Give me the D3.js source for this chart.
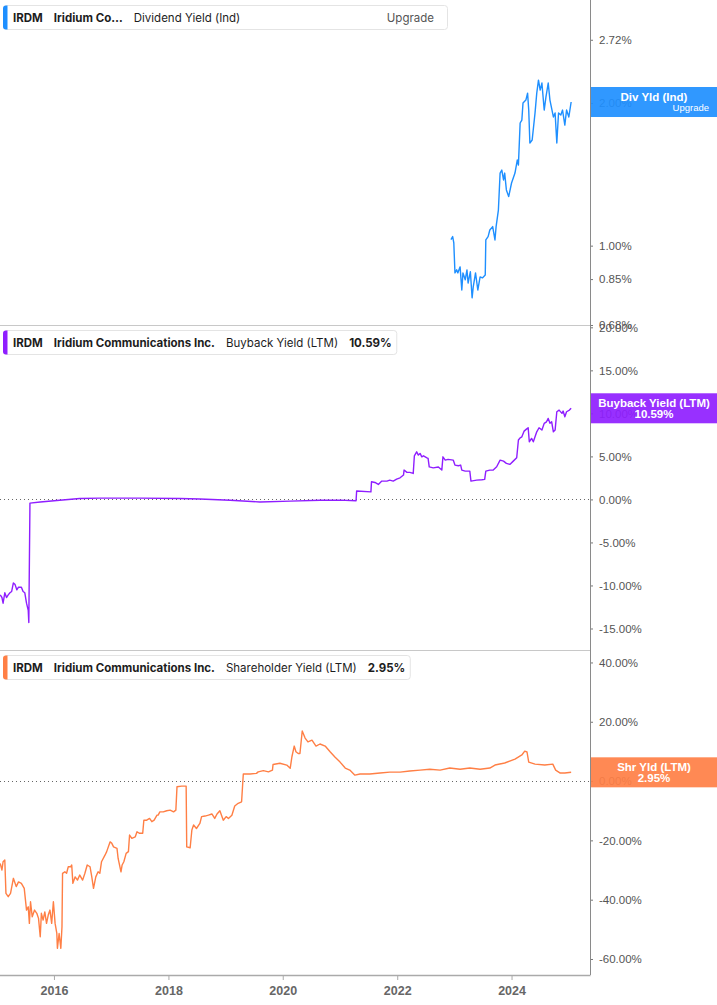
<!DOCTYPE html>
<html>
<head>
<meta charset="utf-8">
<script src="https://cdn.jsdelivr.net/npm/d3@7"></script>
<style>
  body { margin: 0; background: #fff; }
  svg { display: block; }
</style>
</head>
<body>
<svg id="chart" width="717" height="1005"></svg>
<script>
// tick values
var yearTicks = [2016, 2018, 2020, 2022, 2024];
var divTicks = [0.68, 0.85, 1.00, 2.00, 2.72];
var buybackTicks = [-15, -10, -5, 0, 5, 10, 15, 20];
var shrTicks = [-60, -40, -20, 0, 20, 40];

// [decimal year, percent]
var divYield = [
  [2022.94, 1.03], [2022.97, 1.045], [2022.99, 1.013], [2023.01, 0.876], [2023.04, 0.889],
  [2023.06, 0.876], [2023.10, 0.902], [2023.13, 0.806], [2023.15, 0.876], [2023.19, 0.847],
  [2023.22, 0.889], [2023.24, 0.834], [2023.28, 0.881], [2023.31, 0.776], [2023.33, 0.818],
  [2023.37, 0.876], [2023.41, 0.806], [2023.45, 0.859], [2023.49, 0.855], [2023.54, 0.867],
  [2023.55, 1.028], [2023.59, 1.045], [2023.62, 1.079], [2023.67, 1.097], [2023.71, 1.028],
  [2023.73, 1.097], [2023.77, 1.189], [2023.80, 1.423], [2023.83, 1.444], [2023.86, 1.376],
  [2023.88, 1.423], [2023.91, 1.311], [2023.95, 1.269], [2024.00, 1.356], [2024.06, 1.423],
  [2024.10, 1.516], [2024.12, 1.480], [2024.15, 1.815], [2024.18, 1.841], [2024.20, 2.000],
  [2024.25, 2.029], [2024.28, 2.099], [2024.30, 1.933], [2024.32, 1.647], [2024.36, 1.671],
  [2024.41, 1.906], [2024.44, 2.099], [2024.47, 2.236], [2024.50, 2.130], [2024.53, 2.204],
  [2024.57, 1.933], [2024.60, 2.059], [2024.64, 2.204], [2024.67, 2.029], [2024.73, 1.869],
  [2024.76, 1.906], [2024.79, 1.647], [2024.82, 1.906], [2024.86, 1.887], [2024.89, 1.933],
  [2024.93, 1.797], [2024.96, 1.933], [2025.00, 1.869], [2025.04, 2.01]
];

var buybackYield = [
  [2015.06, -11.1], [2015.09, -11.4], [2015.11, -12.06], [2015.14, -10.85], [2015.17, -11.4],
  [2015.20, -11.1], [2015.23, -10.85], [2015.26, -10.7], [2015.29, -9.7], [2015.32, -9.9],
  [2015.35, -10.5], [2015.38, -10.2], [2015.43, -10.2], [2015.46, -10.7], [2015.49, -10.85],
  [2015.52, -12.06], [2015.55, -12.9], [2015.56, -14.3], [2015.58, -0.43], [2015.76, -0.3],
  [2016.10, -0.1], [2016.45, 0.1], [2016.80, 0.15], [2017.50, 0.15], [2018.20, 0.1],
  [2018.55, 0.05], [2019.08, -0.1], [2019.60, -0.3], [2020.13, -0.2], [2020.65, -0.1],
  [2021.00, -0.08], [2021.28, -0.16], [2021.29, 0.97], [2021.54, 0.88], [2021.55, 2.05],
  [2021.61, 1.97], [2021.67, 1.74], [2021.73, 2.13], [2021.82, 2.13], [2021.87, 2.24],
  [2021.93, 2.13], [2021.99, 2.36], [2022.05, 2.51], [2022.11, 2.83], [2022.12, 3.41],
  [2022.17, 3.14], [2022.22, 3.14], [2022.28, 3.02], [2022.30, 5.07], [2022.34, 5.53],
  [2022.37, 5.15], [2022.40, 5.35], [2022.43, 4.95], [2022.46, 5.07], [2022.52, 4.84],
  [2022.54, 4.77], [2022.56, 3.79], [2022.63, 3.67], [2022.72, 3.76], [2022.78, 3.41],
  [2022.80, 4.95], [2022.84, 4.57], [2022.89, 4.65], [2022.98, 4.57], [2023.01, 3.99],
  [2023.07, 3.91], [2023.11, 3.99], [2023.13, 3.41], [2023.19, 3.29], [2023.27, 3.29],
  [2023.29, 2.13], [2023.39, 2.24], [2023.48, 2.28], [2023.53, 2.33], [2023.55, 3.29],
  [2023.62, 3.41], [2023.68, 3.41], [2023.74, 3.79], [2023.80, 4.57], [2023.86, 4.45],
  [2023.91, 4.19], [2023.97, 4.07], [2024.03, 4.45], [2024.09, 4.84], [2024.12, 6.9],
  [2024.15, 7.16], [2024.18, 7.28], [2024.22, 7.94], [2024.26, 8.17], [2024.29, 8.33],
  [2024.31, 6.7], [2024.35, 7.09], [2024.38, 6.7], [2024.44, 7.86], [2024.48, 8.33],
  [2024.53, 8.06], [2024.57, 8.84], [2024.61, 9.02], [2024.64, 9.42], [2024.67, 8.84],
  [2024.70, 9.02], [2024.73, 7.86], [2024.76, 8.06], [2024.79, 10.19], [2024.83, 10.38],
  [2024.88, 10.0], [2024.90, 10.27], [2024.93, 9.6], [2024.96, 10.19], [2025.01, 10.38],
  [2025.04, 10.59]
];

var shareholderYield = [
  [2015.06, -27.8], [2015.09, -30.0], [2015.11, -27.2], [2015.14, -26.6], [2015.16, -37.9],
  [2015.20, -39.0], [2015.24, -37.9], [2015.29, -32.8], [2015.34, -35.6], [2015.38, -34.0],
  [2015.43, -34.5], [2015.48, -36.2], [2015.52, -43.5], [2015.55, -42.4], [2015.57, -48.0],
  [2015.59, -40.7], [2015.62, -45.8], [2015.66, -43.5], [2015.70, -44.6], [2015.73, -46.3],
  [2015.76, -52.5], [2015.78, -44.6], [2015.81, -46.9], [2015.84, -44.1], [2015.87, -48.0],
  [2015.90, -45.2], [2015.93, -43.5], [2015.96, -48.0], [2015.99, -40.7], [2016.02, -48.0],
  [2016.05, -51.4], [2016.06, -56.4], [2016.09, -51.4], [2016.12, -56.4], [2016.14, -49.1],
  [2016.15, -31.1], [2016.19, -30.6], [2016.22, -31.1], [2016.25, -28.9], [2016.29, -28.9],
  [2016.31, -28.3], [2016.33, -34.5], [2016.37, -32.3], [2016.41, -33.4], [2016.45, -31.7],
  [2016.50, -33.4], [2016.54, -31.1], [2016.58, -28.3], [2016.63, -28.9], [2016.66, -32.3],
  [2016.69, -36.2], [2016.73, -32.3], [2016.77, -30.6], [2016.80, -31.1], [2016.83, -27.2],
  [2016.89, -25.0], [2016.92, -23.8], [2016.98, -20.5], [2017.01, -21.0], [2017.04, -22.2],
  [2017.10, -22.7], [2017.12, -26.1], [2017.17, -30.6], [2017.19, -28.3], [2017.22, -27.2],
  [2017.26, -24.4], [2017.30, -23.8], [2017.32, -18.2], [2017.36, -19.3], [2017.42, -18.8],
  [2017.45, -17.1], [2017.49, -17.6], [2017.55, -17.6], [2017.57, -13.2], [2017.62, -13.2],
  [2017.67, -12.6], [2017.71, -13.7], [2017.75, -13.2], [2017.80, -11.5], [2017.82, -11.5],
  [2017.85, -10.4], [2017.91, -10.4], [2017.97, -10.0], [2018.03, -9.8], [2018.09, -10.4],
  [2018.13, -9.8], [2018.15, -1.9], [2018.23, -1.7], [2018.31, -1.7], [2018.32, -22.2],
  [2018.38, -22.5], [2018.41, -16.5], [2018.44, -14.8], [2018.49, -16.0], [2018.55, -14.3],
  [2018.58, -12.0], [2018.64, -11.8], [2018.70, -11.5], [2018.76, -11.1], [2018.81, -12.6],
  [2018.85, -11.1], [2018.90, -10.0], [2018.96, -13.2], [2019.01, -12.0], [2019.05, -12.6],
  [2019.11, -11.5], [2019.16, -8.4], [2019.22, -7.5], [2019.28, -7.0], [2019.31, 2.4],
  [2019.43, 2.4], [2019.54, 2.6], [2019.57, 3.1], [2019.66, 3.5], [2019.75, 3.1],
  [2019.82, 3.7], [2019.83, 5.6], [2019.95, 6.0], [2020.07, 5.4], [2020.13, 4.3],
  [2020.16, 8.2], [2020.20, 11.8], [2020.23, 9.9], [2020.27, 9.3], [2020.30, 9.3],
  [2020.34, 16.9], [2020.39, 14.5], [2020.44, 13.2], [2020.51, 13.8], [2020.58, 11.8],
  [2020.65, 12.5], [2020.74, 11.8], [2020.83, 9.8], [2020.91, 8.1], [2021.00, 6.4],
  [2021.09, 4.4], [2021.17, 3.7], [2021.26, 2.0], [2021.35, 2.4], [2021.52, 2.4],
  [2021.70, 2.7], [2021.87, 3.0], [2022.05, 3.0], [2022.22, 3.4], [2022.40, 3.7],
  [2022.57, 4.0], [2022.75, 3.7], [2022.92, 4.4], [2023.10, 4.0], [2023.27, 4.4],
  [2023.45, 4.0], [2023.62, 4.4], [2023.71, 5.4], [2023.88, 6.1], [2024.06, 7.4],
  [2024.18, 8.8], [2024.23, 10.1], [2024.27, 9.8], [2024.30, 6.4], [2024.41, 5.7],
  [2024.58, 5.4], [2024.72, 5.7], [2024.77, 3.7], [2024.85, 2.7], [2024.93, 2.7],
  [2025.04, 2.95]
];

(function () {
    "use strict";
    var W = 717, plotW = 590;
    var svg = d3.select('#chart');

    function toDate(y) {
        var yr = Math.floor(y),
            a = Date.UTC(yr, 0, 1), b = Date.UTC(yr + 1, 0, 1);
        return new Date(a + (y - yr) * (b - a));
    }

    var x = d3.scaleUtc()
        .domain([toDate(2015.056), toDate(2025.37)])
        .range([0, plotW]);

    var pct = function (d) { return d.toFixed(2) + '%'; };

    var panels = [
        { top: 0, bottom: 325, data: divYield, color: '#1e8fff',
          y: d3.scaleLog().domain([0.68, 3.3]).range([325, 0]),
          ticks: divTicks, zero: false,
          header: [['IRDM', 700], ['Iridium Co\u2026', 700], ['Dividend Yield (Ind)', 400]],
          upgrade: true, boxW: 444,
          badge: ['Div Yld (Ind)', 'Upgrade'] },
        { top: 325, bottom: 650, data: buybackYield, color: '#8f1eff',
          y: d3.scaleLinear().domain([-17.5, 20.27]).range([650, 325]),
          ticks: buybackTicks, zero: true,
          header: [['IRDM', 700], ['Iridium Communications Inc.', 700], ['Buyback Yield (LTM)', 400], ['10.59%', 700]],
          badge: ['Buyback Yield (LTM)', '10.59%'] },
        { top: 650, bottom: 975, data: shareholderYield, color: '#ff7f45',
          y: d3.scaleLinear().domain([-65.4, 44.2]).range([975, 650]),
          ticks: shrTicks, zero: true,
          header: [['IRDM', 700], ['Iridium Communications Inc.', 700], ['Shareholder Yield (LTM)', 400], ['2.95%', 700]],
          badge: ['Shr Yld (LTM)', '2.95%'] }
    ];

    var defs = svg.append('defs');

    panels.forEach(function (p, i) {
        var g = svg.append('g').attr('class', 'panel panel-' + i);

        // separator at the top of lower panels
        if (p.top > 0) {
            g.append('line')
                .attr('x1', 0).attr('x2', plotW)
                .attr('y1', p.top + 0.5).attr('y2', p.top + 0.5)
                .attr('stroke', '#c8c8c8');
        }

        // dotted zero line
        if (p.zero) {
            g.append('line')
                .attr('x1', 0).attr('x2', plotW)
                .attr('y1', Math.round(p.y(0)) + 0.5).attr('y2', Math.round(p.y(0)) + 0.5)
                .attr('stroke', '#666')
                .attr('stroke-dasharray', '1,3');
        }

        // right axis
        var axis = d3.axisRight(p.y)
            .tickValues(p.ticks)
            .tickFormat(pct)
            .tickSize(3)
            .tickPadding(6);
        var ax = g.append('g')
            .attr('transform', 'translate(' + plotW + ',0)')
            .call(axis);
        ax.select('.domain').remove();
        ax.selectAll('.tick line').attr('stroke', '#777');
        ax.selectAll('.tick text')
            .attr('fill', '#555')
            .style('font-family', '"Liberation Sans", Arial, sans-serif')
            .style('font-size', '11.5px');

        // series line
        var clipId = 'clip-' + i;
        defs.append('clipPath').attr('id', clipId)
            .append('rect')
            .attr('x', 0).attr('y', p.top)
            .attr('width', plotW).attr('height', p.bottom - p.top);

        var line = d3.line()
            .x(function (d) { return x(toDate(d[0])); })
            .y(function (d) { return p.y(d[1]); });

        g.append('path')
            .datum(p.data)
            .attr('clip-path', 'url(#' + clipId + ')')
            .attr('d', line)
            .attr('fill', 'none')
            .attr('stroke', p.color)
            .attr('stroke-width', 1.4)
            .attr('stroke-linejoin', 'round');

        // header box
        var hy = p.top + 5;
        var hb = g.append('g').attr('class', 'header');
        var box = hb.append('rect')
            .attr('x', 3.5).attr('y', hy + 0.5)
            .attr('height', 24).attr('rx', 3)
            .attr('fill', '#fff')
            .attr('stroke', '#e4e4e4');
        var tx = 13, endX = tx;
        p.header.forEach(function (h) {
            var t = hb.append('text')
                .attr('x', tx).attr('y', hy + 16.5)
                .attr('fill', '#1d1d1d')
                .style('font-family', 'Inter, "Noto Sans", sans-serif')
                .style('font-size', '11.5px')
                .style('font-weight', h[1])
                .text(h[0]);
            endX = tx + t.node().getComputedTextLength();
            tx = endX + 11;
        });
        if (p.upgrade) {
            hb.append('text')
                .attr('x', 434).attr('y', hy + 16.5)
                .attr('text-anchor', 'end')
                .attr('fill', '#555')
                .style('font-family', 'Inter, "Noto Sans", sans-serif')
                .style('font-size', '11.5px')
                .text('Upgrade');
        }
        var bw = p.boxW || (endX + 5 - 3.5);
        box.attr('width', bw);
        hb.append('path')
            .attr('d', 'M7.5,' + (hy + 0.5) + 'h-1.5a3,3 0 0 0 -3,3v18a3,3 0 0 0 3,3h1.5z')
            .attr('fill', p.color);

        // value badge on the right axis
        var last = p.data[p.data.length - 1];
        var cy = p.y(last[1]);
        var bg = g.append('g').attr('class', 'badge');
        bg.append('rect')
            .attr('x', plotW).attr('y', cy - 15)
            .attr('width', W - plotW).attr('height', 30)
            .attr('fill', p.color)
            .attr('fill-opacity', 0.92);
        var bfont = '"Liberation Sans", Arial, sans-serif';
        if (p.upgrade) {
            bg.append('text')
                .attr('x', 654).attr('y', cy - 1.5)
                .attr('text-anchor', 'middle')
                .attr('fill', '#fff')
                .style('font-family', bfont)
                .style('font-size', '11.5px')
                .style('font-weight', 700)
                .text(p.badge[0]);
            bg.append('text')
                .attr('x', 709).attr('y', cy + 8.5)
                .attr('text-anchor', 'end')
                .attr('fill', '#fff')
                .style('font-family', bfont)
                .style('font-size', '9.5px')
                .text(p.badge[1]);
        } else {
            bg.selectAll('text.bl')
                .data(p.badge)
              .enter()
                .append('text')
                .attr('class', 'bl')
                .attr('x', 654)
                .attr('y', function (d, j) { return cy - 1.5 + j * 11.5; })
                .attr('text-anchor', 'middle')
                .attr('fill', '#fff')
                .style('font-family', bfont)
                .style('font-size', '11.5px')
                .style('font-weight', 700)
                .text(function (d) { return d; });
        }
    });

    // vertical axis line
    svg.append('line')
        .attr('x1', plotW + 0.5).attr('x2', plotW + 0.5)
        .attr('y1', 0).attr('y2', 975)
        .attr('stroke', '#8a8a8a');

    // bottom time axis
    var xAxis = d3.axisBottom(x)
        .tickValues(yearTicks.map(function (y) { return toDate(y); }))
        .tickFormat(d3.utcFormat('%Y'))
        .tickSize(5)
        .tickPadding(6);
    var xa = svg.append('g')
        .attr('transform', 'translate(0,975)')
        .call(xAxis);
    xa.select('.domain')
        .attr('d', 'M0,0.5H' + (plotW + 0.5))
        .attr('stroke', '#aaa')
        .attr('stroke-width', 1.5);
    xa.selectAll('.tick line').attr('stroke', '#aaa');
    xa.selectAll('.tick text')
        .attr('fill', '#666')
        .style('font-family', '"Liberation Sans", Arial, sans-serif')
        .style('font-size', '12.5px')
        .style('font-weight', 700);
})();
</script>
</body>
</html>
